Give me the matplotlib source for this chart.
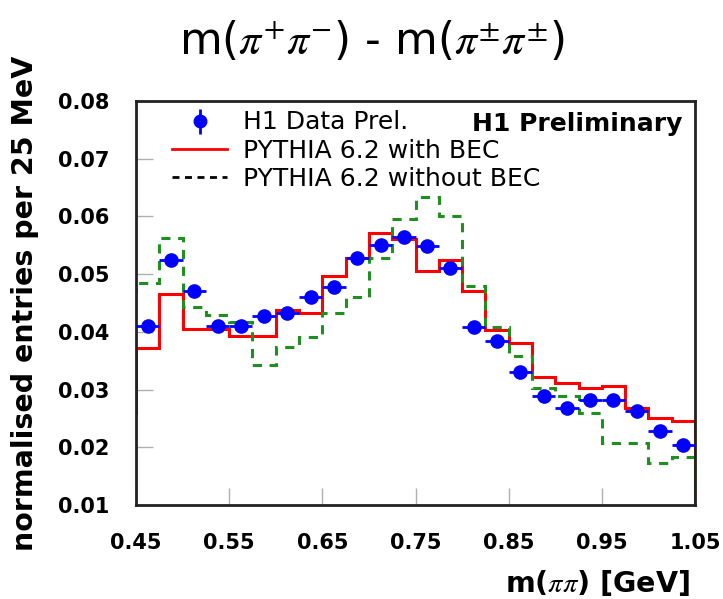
import numpy as np
import matplotlib
matplotlib.use("Agg")
import matplotlib.pyplot as plt
from matplotlib.lines import Line2D

# 25 MeV bins from 0.45 to 1.05 GeV
bin_edges = np.round(np.arange(0.45, 1.0501, 0.025), 4)

# H1 preliminary data points (one per bin)
data_vals = [0.0410, 0.0525, 0.0470, 0.0410, 0.0410, 0.0428, 0.0433, 0.0460,
             0.0478, 0.0528, 0.0551, 0.0564, 0.0549, 0.0510, 0.0409, 0.0385,
             0.0330, 0.0288, 0.0268, 0.0282, 0.0282, 0.0263, 0.0228, 0.0204]
data_err = 0.0006

# PYTHIA 6.2 with BEC (underflow, 24 bins, overflow)
bec_vals = [0.0260,
            0.0372, 0.0465, 0.0405, 0.0405, 0.0393, 0.0393, 0.0438, 0.0433,
            0.0497, 0.0528, 0.0571, 0.0561, 0.0505, 0.0524, 0.0470, 0.0404,
            0.0380, 0.0322, 0.0312, 0.0303, 0.0307, 0.0268, 0.0251, 0.0246,
            0.0]

# PYTHIA 6.2 without BEC (underflow, 24 bins, overflow)
nobec_vals = [0.0470,
              0.0485, 0.0562, 0.0443, 0.0429, 0.0417, 0.0343, 0.0374, 0.0391,
              0.0433, 0.0460, 0.0528, 0.0596, 0.0633, 0.0600, 0.0479, 0.0408,
              0.0359, 0.0303, 0.0289, 0.0260, 0.0208, 0.0208, 0.0173, 0.0183,
              0.0]

x_ticks = [0.45, 0.55, 0.65, 0.75, 0.85, 0.95, 1.05]
y_ticks = [0.01, 0.02, 0.03, 0.04, 0.05, 0.06, 0.07, 0.08]

plt.rcParams["font.family"] = ["DejaVu Sans"]

W, H = 723, 599
fig = plt.figure(figsize=(W / 100, H / 100), dpi=100)
# frame: x 136..695 px, y 101..505 px
ax = fig.add_axes([136 / W, 1 - 505 / H, (695 - 136) / W, (505 - 101) / H])

# histograms including under/overflow, clipped by the axis range
ext_edges = np.concatenate([[0.425], bin_edges, [1.075]])
ax.stairs(bec_vals, ext_edges, baseline=None, color="#ff0000", lw=2.2)
ax.stairs(nobec_vals, ext_edges, baseline=None, color="#1f8f1f", lw=2.2,
          linestyle=(0, (3, 2.5)))

centers = 0.5 * (bin_edges[:-1] + bin_edges[1:])
ax.errorbar(centers, data_vals, xerr=0.0125, yerr=data_err, fmt="o",
            color="#0000ff", ms=9.5, elinewidth=2, capsize=0, zorder=5)

ax.set_xlim(0.45, 1.05)
ax.set_ylim(0.01, 0.08)
ax.set_xticks(x_ticks)
ax.set_xticklabels([f"{v:.2f}" for v in x_ticks])
ax.set_yticks(y_ticks)
ax.set_yticklabels([f"{v:.2f}" for v in y_ticks])
ax.tick_params(direction="in", length=12, width=1, color="#b0b0b0",
               labelsize=15, top=False, right=False)
ax.tick_params(axis="y", pad=19)
ax.tick_params(axis="x", pad=20)
for lbl in ax.get_xticklabels() + ax.get_yticklabels():
    lbl.set_fontweight("bold")
for sp in ax.spines.values():
    sp.set_linewidth(2)
    sp.set_color("#222222")

fig.text(25 / W, 1 - 303 / H, "normalised entries per 25 MeV", rotation=90,
         ha="center", va="center", fontsize=20.5, fontweight="bold")
fig.text(690 / W, 1 - 583 / H, r"m($\pi\pi$) [GeV]", ha="right",
         va="center", fontsize=20.5, fontweight="bold", math_fontfamily="stix")

fig.text(372 / W, 1 - 41 / H, r"m($\pi^{+}\pi^{-}$) - m($\pi^{\pm}\pi^{\pm}$)",
         ha="center", va="center", fontsize=31.5, math_fontfamily="stix")

ax.text(0.977, 0.943, "H1 Preliminary", transform=ax.transAxes, ha="right",
        va="center", fontsize=18, fontweight="bold")

data_handle = (Line2D([], [], color="#0000ff", marker="|", ms=18, mew=2, lw=0),
               Line2D([], [], color="#0000ff", marker="o", ms=9, lw=0))
handles = [
    data_handle,
    Line2D([], [], color="#ff0000", lw=2),
    Line2D([], [], color="black", lw=2, linestyle=(0, (2.5, 2))),
]
labels = ["H1 Data Prel.", "PYTHIA 6.2 with BEC", "PYTHIA 6.2 without BEC"]
ax.legend(handles, labels, loc="upper left", bbox_to_anchor=(0.0645, 0.977),
          frameon=False, fontsize=18, handlelength=2.2, handletextpad=0.62,
          labelspacing=0.17, borderaxespad=0, borderpad=0)

fig.savefig("out.png", dpi=100)
